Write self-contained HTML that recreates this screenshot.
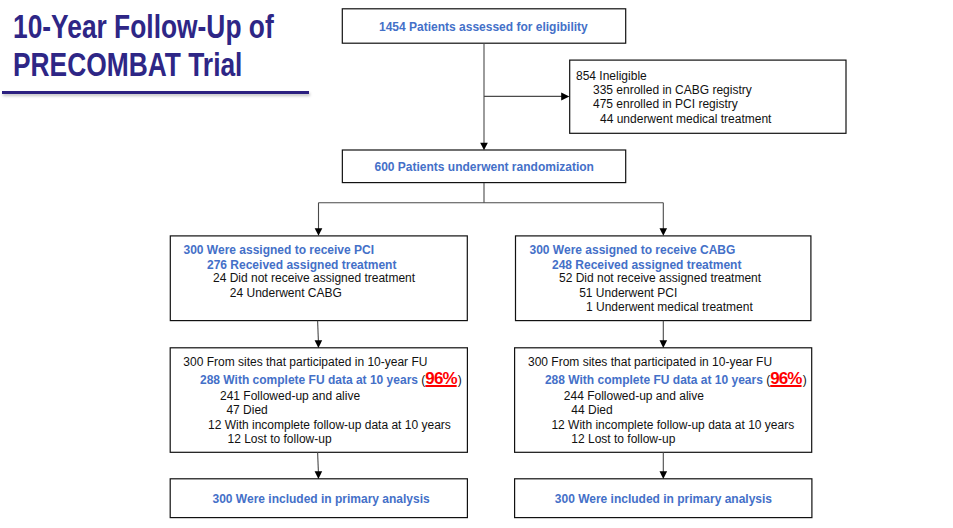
<!DOCTYPE html>
<html><head><meta charset="utf-8">
<style>
html,body{margin:0;padding:0;background:#fff;}
body{width:953px;height:528px;position:relative;overflow:hidden;font-family:"Liberation Sans",sans-serif;}
.t{position:absolute;white-space:nowrap;font-size:12px;line-height:14px;color:#111;}
.b,.bb{font-weight:bold;color:#4470c8;}
.red{color:#ff0000;font-weight:bold;font-size:17px;letter-spacing:-0.9px;text-decoration:underline;text-decoration-thickness:1.7px;text-underline-offset:1px;line-height:0;}
.title{position:absolute;left:12.5px;top:8px;font-weight:bold;font-size:32.5px;line-height:38px;color:#2e2686;transform-origin:0 0;transform:scaleX(0.811);white-space:nowrap;}
.ul{position:absolute;left:2px;top:91px;width:307px;height:3px;background:#2c2080;box-shadow:1px 2px 3px rgba(0,0,0,0.25);}
svg{position:absolute;left:0;top:0;}
rect{fill:none;stroke:#111;stroke-width:1.2;}
.ln{stroke:#4a4a4a;stroke-width:1.1;}
.ah{fill:#000;}
</style></head><body>
<div class="title">10-Year Follow-Up of<br>PRECOMBAT Trial</div>
<div class="ul"></div>
<svg width="953" height="528" viewBox="0 0 953 528">
<rect x="342.3" y="8.8" width="283.4" height="34.4" />
<rect x="569.7" y="60.1" width="276.3" height="73.2" />
<rect x="342.35" y="150" width="283.35" height="32.6" />
<rect x="170.3" y="235.9" width="297" height="84.7" />
<rect x="515.5" y="235.9" width="295.4" height="84.7" />
<rect x="170.2" y="347.8" width="297.2" height="104.5" />
<rect x="514.6" y="347.8" width="297.1" height="104.5" />
<rect x="170.2" y="478.8" width="297.2" height="38.8" />
<rect x="514.6" y="478.8" width="297.3" height="38.8" />
<line class="ln" x1="484" y1="43" x2="484" y2="144" />
<polygon class="ah" points="480.20,142.70 487.80,142.70 484.00,150.30" />
<line class="ln" x1="484" y1="96.4" x2="562" y2="96.4" />
<polygon class="ah" points="561.20,92.40 561.20,100.40 569.40,96.40" />
<line class="ln" x1="484" y1="183" x2="484" y2="202.7" />
<line class="ln" x1="318.5" y1="202.7" x2="663.3" y2="202.7" />
<line class="ln" x1="318.5" y1="202.7" x2="318.5" y2="229" />
<polygon class="ah" points="314.70,228.20 322.30,228.20 318.50,235.80" />
<line class="ln" x1="663.3" y1="202.7" x2="663.3" y2="229" />
<polygon class="ah" points="659.50,228.20 667.10,228.20 663.30,235.80" />
<line class="ln" x1="317.6" y1="320.7" x2="318.4" y2="341" />
<polygon class="ah" points="314.60,340.30 322.20,340.30 318.40,347.90" />
<line class="ln" x1="663.3" y1="320.7" x2="663.3" y2="341" />
<polygon class="ah" points="659.50,340.30 667.10,340.30 663.30,347.90" />
<line class="ln" x1="317.6" y1="452.3" x2="318.4" y2="472" />
<polygon class="ah" points="314.60,471.30 322.20,471.30 318.40,478.90" />
<line class="ln" x1="663.3" y1="452.3" x2="663.3" y2="472" />
<polygon class="ah" points="659.50,471.30 667.10,471.30 663.30,478.90" />
</svg>
<div class="t b" style="left:379px;top:19.84px">1454 Patients assessed for eligibility</div>
<div class="t n" style="left:576px;top:68.84px">854 Ineligible</div>
<div class="t n" style="left:593px;top:83.14px">335 enrolled in CABG registry</div>
<div class="t n" style="left:593px;top:97.14px">475 enrolled in PCI registry</div>
<div class="t n" style="left:600px;top:111.64px">44 underwent medical treatment</div>
<div class="t b" style="left:374.5px;top:159.84px">600 Patients underwent randomization</div>
<div class="t b" style="left:183.5px;top:242.84px">300 Were assigned to receive PCI</div>
<div class="t b" style="left:207px;top:257.84px">276 Received assigned treatment</div>
<div class="t n" style="left:213px;top:271.14px">24 Did not receive assigned treatment</div>
<div class="t n" style="left:229.8px;top:285.64px">24 Underwent CABG</div>
<div class="t b" style="left:529.5px;top:242.84px">300 Were assigned to receive CABG</div>
<div class="t b" style="left:552px;top:257.84px">248 Received assigned treatment</div>
<div class="t n" style="left:559px;top:271.14px">52 Did not receive assigned treatment</div>
<div class="t n" style="left:579.2px;top:285.64px">51 Underwent PCI</div>
<div class="t n" style="left:586px;top:300.44px">1 Underwent medical treatment</div>
<div class="t n" style="left:183.3px;top:355.14px">300 From sites that participated in 10-year FU</div>
<div class="t n" style="left:200px;top:373.14px"><span class="bb">288 With complete FU data at 10 years</span> (<span class="red">96%</span><span style="margin-left:1.2px">)</span></div>
<div class="t n" style="left:220px;top:388.64px">241 Followed-up and alive</div>
<div class="t n" style="left:226.4px;top:402.84px">47 Died</div>
<div class="t n" style="left:208px;top:417.64px">12 With incomplete follow-up data at 10 years</div>
<div class="t n" style="left:227.5px;top:431.84px">12 Lost to follow-up</div>
<div class="t b" style="left:212.5px;top:492.14px">300 Were included in primary analysis</div>
<div class="t n" style="left:528px;top:355.14px">300 From sites that participated in 10-year FU</div>
<div class="t n" style="left:544.9px;top:373.14px"><span class="bb">288 With complete FU data at 10 years</span> (<span class="red">96%</span><span style="margin-left:1.2px">)</span></div>
<div class="t n" style="left:563.8px;top:388.64px">244 Followed-up and alive</div>
<div class="t n" style="left:571.3px;top:402.84px">44 Died</div>
<div class="t n" style="left:551.4px;top:417.64px">12 With incomplete follow-up data at 10 years</div>
<div class="t n" style="left:571.3px;top:431.84px">12 Lost to follow-up</div>
<div class="t b" style="left:554.8px;top:492.14px">300 Were included in primary analysis</div>

</body></html>
